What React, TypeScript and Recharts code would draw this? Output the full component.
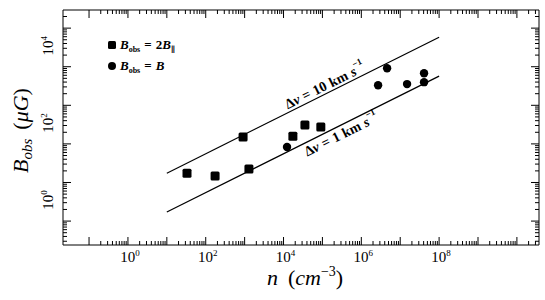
import React from "react";
import { ScatterChart, Scatter, XAxis, YAxis, ReferenceDot } from "recharts";

const SERIF = '"Liberation Serif", "DejaVu Serif", serif';

// B_obs = 2 B_parallel (squares)
const parN = [33, 174, 912, 1290, 17400, 35500, 91000];
const parB = [17.4, 14.8, 151, 22.4, 158, 309, 275];

// B_obs = B (circles)
const totN = [12300, 2.7e6, 4.6e6, 1.5e7, 4.1e7, 4.1e7];
const totB = [83, 3300, 9100, 3550, 6760, 3980];

// the two reference lines, end points
const lineN = [10, 1e8];
const fastB = [17.4, 58000]; // dv = 10 km/s
const slowB = [1.72, 5700]; // dv = 1 km/s

// where the line captions sit
const captionN = [115000, 302000];
const captionB = [3300, 178];
const captionText = ["10", "1"];

const xLabelExps = [0, 2, 4, 6, 8];
const yLabelExps = [0, 2, 4];

const xDomain = [0.0214, 3.7e10];
const yDomain = [0.24, 295000];

const toRows = (n: number[], b: number[]) => n.map((v, i) => ({ n: v, b: b[i] }));

const logTicks = (lo: number, hi: number, dom: number[]) => {
  const t: number[] = [];
  for (let k = lo; k <= hi; k++)
    for (let m = 1; m < 10; m++) {
      const v = m * Math.pow(10, k);
      if (v >= dom[0] && v <= dom[1]) t.push(v);
    }
  return t;
};

const xTicks = logTicks(-1, 10, xDomain);
const yTicks = logTicks(-1, 5, yDomain);

const Pow = ({ e }: { e: number }) => (
  <>
    <tspan>10</tspan>
    <tspan dy={-6} fontSize={9}>
      {e}
    </tspan>
  </>
);

const AxisTick = (props: any) => {
  const { x, y, payload, side } = props;
  const lg = Math.log10(payload.value);
  const e = Math.round(lg);
  const major = Math.abs(lg - e) < 1e-6;
  const len = major ? 8 : 4;
  let l = null;
  let label = null;
  if (side === "bottom") {
    l = <line x1={x} y1={y} x2={x} y2={y - len} />;
    if (major && xLabelExps.includes(e))
      label = (
        <text x={x + 2} y={y + 17} textAnchor="middle" fontSize={15} fontFamily={SERIF} fill="#000" stroke="none">
          <Pow e={e} />
        </text>
      );
  } else if (side === "top") {
    l = <line x1={x} y1={y} x2={x} y2={y + len} />;
  } else if (side === "left") {
    l = <line x1={x} y1={y} x2={x + len} y2={y} />;
    if (major && yLabelExps.includes(e)) {
      const ty = y - 21;
      label = (
        <text x={x - 10} y={ty} textAnchor="middle" transform={`rotate(-90 ${x - 10} ${ty})`} fontSize={15} fontFamily={SERIF} fill="#000" stroke="none">
          <Pow e={e} />
        </text>
      );
    }
  } else {
    l = <line x1={x} y1={y} x2={x - len} y2={y} />;
  }
  return (
    <g stroke="#000" strokeWidth={1}>
      {l}
      {label}
    </g>
  );
};

const Square = (p: any) => <rect x={p.cx - 4.5} y={p.cy - 4.5} width={9} height={9} rx={1.5} fill="#000" />;
const Dot = (p: any) => <circle cx={p.cx} cy={p.cy} r={4.2} fill="#000" />;
const NoShape = () => <g />;

const caption = (txt: string) => (p: any) => {
  const { x, y } = p.viewBox;
  return (
    <text x={x} y={y} textAnchor="middle" dominantBaseline="central" transform={`rotate(-26.4 ${x} ${y})`} fontSize={14} fontWeight="bold" fontFamily={SERIF} fill="#000">
      <tspan>Δ</tspan>
      <tspan fontStyle="italic">v</tspan>
      <tspan dx={4}>=</tspan>
      <tspan dx={4}>{txt}</tspan>
      <tspan dx={4}>km</tspan>
      <tspan dx={4} fontStyle="italic">s</tspan>
      <tspan dy={-6} fontSize={9}>
        −1
      </tspan>
    </text>
  );
};

const XTitle = (p: any) => {
  const { x, y, width } = p.viewBox;
  return (
    <text x={x + width / 2 + 4} y={y + 40} textAnchor="middle" fontSize={22} fontFamily={SERIF} fill="#000">
      <tspan fontStyle="italic">n</tspan>
      <tspan dx={10}>(</tspan>
      <tspan fontStyle="italic">cm</tspan>
      <tspan dy={-9} fontSize={14}>−3</tspan>
      <tspan dy={9}>)</tspan>
    </text>
  );
};

const YTitle = (p: any) => {
  const { x, y, height } = p.viewBox;
  const cx = x - 34;
  const cy = y + height / 2 + 3;
  return (
    <text x={cx} y={cy} textAnchor="middle" transform={`rotate(-90 ${cx} ${cy})`} fontSize={22} fontFamily={SERIF} fill="#000">
      <tspan fontStyle="italic">B</tspan>
      <tspan dy={4} fontSize={15} fontStyle="italic">obs</tspan>
      <tspan dy={-4} dx={9}>(</tspan>
      <tspan fontStyle="italic">μG</tspan>
      <tspan>)</tspan>
    </text>
  );
};

const legendText = { fontSize: 13, fontWeight: "bold", fontFamily: SERIF, fill: "#000" } as const;

const axisCommon = {
  type: "number" as const,
  scale: "log" as const,
  allowDataOverflow: true,
  interval: 0,
  tickSize: 0,
  tickMargin: 0,
  tickLine: false,
  axisLine: { stroke: "#000" },
};

export default function App() {
  return (
    <div style={{ position: "absolute", left: 0, top: 0, width: 545, height: 300, background: "#fff" }}>
      <ScatterChart width={545} height={300} margin={{ top: 9, right: 5, bottom: 54, left: 62 }}>
        <XAxis {...axisCommon} dataKey="n" domain={xDomain} ticks={xTicks} height={1} tick={<AxisTick side="bottom" />} label={{ content: XTitle }} />
        <XAxis {...axisCommon} xAxisId="top" orientation="top" dataKey="n" domain={xDomain} ticks={xTicks} height={1} tick={<AxisTick side="top" />} />
        <YAxis {...axisCommon} dataKey="b" domain={yDomain} ticks={yTicks} width={1} tick={<AxisTick side="left" />} label={{ content: YTitle }} />
        <YAxis {...axisCommon} yAxisId="right" orientation="right" dataKey="b" domain={yDomain} ticks={yTicks} width={1} tick={<AxisTick side="right" />} />
        <Scatter data={toRows(lineN, fastB)} line={{ stroke: "#000", strokeWidth: 1.2 }} shape={NoShape} isAnimationActive={false} />
        <Scatter data={toRows(lineN, slowB)} line={{ stroke: "#000", strokeWidth: 1.2 }} shape={NoShape} isAnimationActive={false} />
        <Scatter data={toRows(parN, parB)} shape={Square} isAnimationActive={false} />
        <Scatter data={toRows(totN, totB)} shape={Dot} isAnimationActive={false} />
        {captionN.map((n, i) => (
          <ReferenceDot key={i} x={n} y={captionB[i]} r={0} fill="none" stroke="none" label={caption(captionText[i])} />
        ))}
      </ScatterChart>
      <svg width={545} height={300} style={{ position: "absolute", left: 0, top: 0, pointerEvents: "none" }}>
        <rect x={108} y={41} width={8} height={8} rx={1.5} fill="#000" />
        <text x={120} y={49} {...legendText}>
          <tspan fontStyle="italic">B</tspan>
          <tspan dy={3} fontSize={8}>obs</tspan>
          <tspan dy={-3} dx={4}>=</tspan>
          <tspan dx={4}>2</tspan>
          <tspan fontStyle="italic">B</tspan>
          <tspan dy={3} fontSize={8}>∥</tspan>
        </text>
        <circle cx={112} cy={66} r={4} fill="#000" />
        <text x={120} y={70} {...legendText}>
          <tspan fontStyle="italic">B</tspan>
          <tspan dy={3} fontSize={8}>obs</tspan>
          <tspan dy={-3} dx={4}>=</tspan>
          <tspan dx={4} fontStyle="italic">B</tspan>
        </text>
      </svg>
    </div>
  );
}
